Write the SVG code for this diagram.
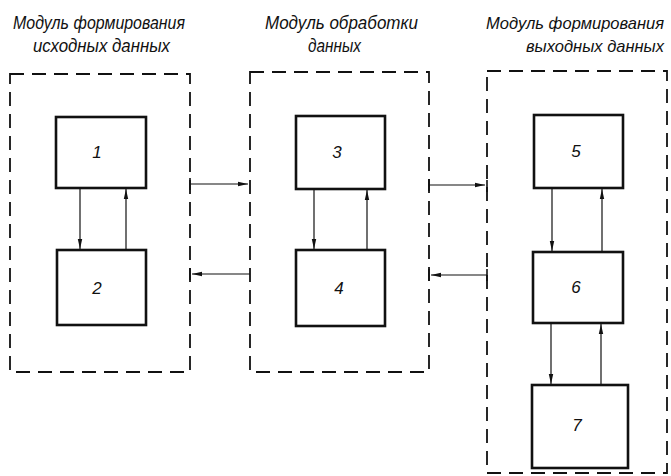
<svg xmlns="http://www.w3.org/2000/svg" width="671" height="476" viewBox="0 0 671 476">
<defs>
<marker id="ah" viewBox="0 0 10 6" refX="10" refY="3" markerWidth="10" markerHeight="6" markerUnits="userSpaceOnUse" orient="auto">
<path d="M0,0.8 L10,3 L0,5.2 Z" fill="#111"/>
</marker>
</defs>
<style>
.mod{fill:none;stroke:#111;stroke-width:1.8;stroke-dasharray:14 8}
.blk{fill:#fff;stroke:#111;stroke-width:2.6}
.lbl{font-family:"Liberation Sans",Arial,sans-serif;font-style:italic;font-size:19px;fill:#111}
.lbr{font-family:"Liberation Sans",Arial,sans-serif;font-style:italic;font-size:16.5px;fill:#111;text-anchor:end}
.num{font-family:"Liberation Sans",Arial,sans-serif;font-style:italic;font-size:17px;fill:#111;text-anchor:middle}
.con{fill:none;stroke:#111;stroke-width:1.2;marker-end:url(#ah)}
</style>
<rect width="671" height="476" fill="#fff"/>
<g id="titles">
<text class="lbl" x="13" y="29" textLength="172" lengthAdjust="spacingAndGlyphs">Модуль формирования</text>
<text class="lbl" x="33" y="52" textLength="137" lengthAdjust="spacingAndGlyphs">исходных данных</text>
<text class="lbl" x="265" y="29" textLength="153" lengthAdjust="spacingAndGlyphs">Модуль обработки</text>
<text class="lbl" x="308" y="52" textLength="53" lengthAdjust="spacingAndGlyphs">данных</text>
<text class="lbr" x="664" y="29">Модуль формирования</text>
<text class="lbr" x="664" y="52">выходных данных</text>
</g>
<g id="module1"><rect class="mod" x="10" y="74" width="180" height="298"/></g>
<g id="module2"><rect class="mod" x="250" y="72" width="179" height="300"/></g>
<g id="module3"><rect class="mod" x="487" y="71" width="180" height="402"/></g>
<g id="node1"><rect class="blk" x="56" y="117" width="90" height="71"/><text class="num" x="97" y="158">1</text></g>
<g id="node2"><rect class="blk" x="57" y="250" width="89" height="75"/><text class="num" x="97" y="294">2</text></g>
<g id="node3"><rect class="blk" x="296" y="116" width="89" height="73"/><text class="num" x="337" y="158">3</text></g>
<g id="node4"><rect class="blk" x="296" y="250" width="89" height="76"/><text class="num" x="339" y="294">4</text></g>
<g id="node5"><rect class="blk" x="534" y="115" width="89" height="73"/><text class="num" x="576" y="157">5</text></g>
<g id="node6"><rect class="blk" x="533" y="252" width="90" height="71"/><text class="num" x="576" y="293">6</text></g>
<g id="node7"><rect class="blk" x="532" y="385" width="96" height="83"/><text class="num" x="577" y="431">7</text></g>
<g id="connectors">
<line class="con" x1="80" y1="188" x2="80" y2="249"/>
<line class="con" x1="126" y1="250" x2="126" y2="189"/>
<line class="con" x1="314" y1="189" x2="314" y2="249"/>
<line class="con" x1="367" y1="250" x2="367" y2="190"/>
<line class="con" x1="552" y1="188" x2="552" y2="251"/>
<line class="con" x1="602" y1="252" x2="602" y2="189"/>
<line class="con" x1="551" y1="323" x2="551" y2="384"/>
<line class="con" x1="601" y1="385" x2="601" y2="324"/>
<line class="con" x1="190" y1="184" x2="248" y2="184"/>
<line class="con" x1="250" y1="274" x2="192" y2="274"/>
<line class="con" x1="429" y1="185" x2="485" y2="185"/>
<line class="con" x1="487" y1="275" x2="431" y2="275"/>
<path d="M190,178 V190 M190,268 V280 M429,179 V191 M429,269 V281 M487,180 V192 M487,269 V281" stroke="#111" stroke-width="1.6" fill="none"/>
</g>
</svg>
